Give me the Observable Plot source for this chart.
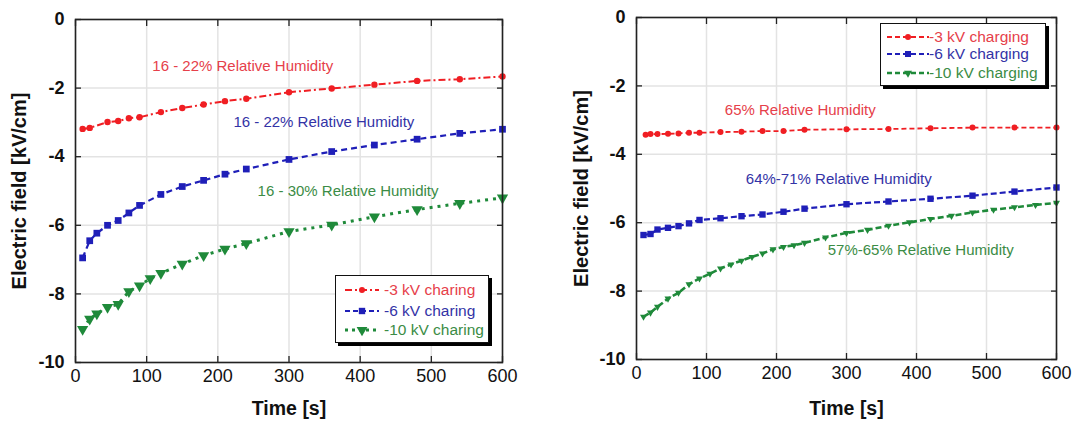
<!DOCTYPE html>
<html><head><meta charset="utf-8">
<script src="https://cdn.jsdelivr.net/npm/d3@7"></script>
<script src="https://cdn.jsdelivr.net/npm/@observablehq/plot@0.6"></script>
<style>
body{margin:0;background:#fff;font-family:"Liberation Sans",Arial,sans-serif;}
#wrap{position:relative;width:1078px;height:427px;overflow:hidden;background:#fff;}
.panel{position:absolute;top:0;}
.legend{position:absolute;box-sizing:border-box;background:#fff;border:1.5px solid #111;box-shadow:3px 3px 0 #000;}
.row{position:absolute;left:0;height:18px;display:block;}
.row svg{position:absolute;top:0;}
.row span{position:absolute;top:0;line-height:18px;font-size:15.5px;white-space:nowrap;}
</style></head><body><div id="wrap"></div>
<script>
// ---------- data ----------
const xTicks = [0,100,200,300,400,500,600];
const yTicks = [-10,-8,-6,-4,-2,0];

// Left panel
const timesL3 = [10,20,45,60,75,90,120,150,180,210,240,300,360,420,480,540,600];
const fieldL3 = [-3.19,-3.16,-2.99,-2.96,-2.88,-2.85,-2.70,-2.58,-2.48,-2.38,-2.31,-2.12,-2.01,-1.90,-1.79,-1.74,-1.66];
const timesL6 = [10,20,30,45,60,75,90,120,150,180,210,240,300,360,420,480,540,600];
const fieldL6 = [-6.95,-6.45,-6.23,-6.00,-5.86,-5.64,-5.42,-5.10,-4.87,-4.69,-4.51,-4.36,-4.08,-3.85,-3.66,-3.49,-3.32,-3.20];
const timesL10 = [10,20,30,45,60,75,90,105,120,150,180,210,240,300,360,420,480,540,600];
const fieldL10 = [-9.03,-8.73,-8.58,-8.39,-8.30,-7.93,-7.76,-7.55,-7.40,-7.13,-6.88,-6.69,-6.53,-6.18,-5.99,-5.75,-5.54,-5.36,-5.20];

// Right panel
const timesR3 = [13,20,30,45,60,75,90,120,150,180,210,240,300,360,420,480,540,600];
const fieldR3 = [-3.43,-3.41,-3.41,-3.40,-3.39,-3.37,-3.37,-3.35,-3.34,-3.32,-3.32,-3.28,-3.27,-3.26,-3.24,-3.22,-3.22,-3.22];
const timesR6 = [10,20,30,45,60,75,90,120,150,180,210,240,300,360,420,480,540,600];
const fieldR6 = [-6.36,-6.33,-6.20,-6.15,-6.10,-6.02,-5.92,-5.87,-5.81,-5.76,-5.68,-5.59,-5.46,-5.38,-5.30,-5.21,-5.09,-4.97];
const timesR10 = [10,20,30,45,60,75,90,105,120,135,150,165,180,195,210,225,240,270,300,330,360,390,420,450,480,510,540,570,600];
const fieldR10 = [-8.75,-8.63,-8.46,-8.22,-8.05,-7.80,-7.63,-7.49,-7.34,-7.22,-7.11,-7.00,-6.90,-6.78,-6.71,-6.66,-6.59,-6.43,-6.30,-6.21,-6.09,-5.99,-5.89,-5.80,-5.70,-5.62,-5.55,-5.48,-5.42];

const legendL = ["-3 kV charing","-6 kV charing","-10 kV charing"];
const legendR = ["-3 kV charging","-6 kV charging","-10 kV charging"];

const notesL = ["16 - 22% Relative Humidity","16 - 22% Relative Humidity","16 - 30% Relative Humidity"];
const notesLt = [235,349,383];
const notesLv = [-1.37,-2.99,-5.01];
const notesR = ["65% Relative Humidity","64%-71% Relative Humidity","57%-65% Relative Humidity"];
const notesRt = [234,289,406];
const notesRv = [-2.70,-4.72,-6.80];

const yLabel = "Electric field [kV/cm]";
const xLabel = "Time [s]";

// ---------- styles ----------
const RED = "#f01e23", BLUE = "#1f1fb8", GREEN = "#1f8a3a";
const RED_T = "#e6404a", BLUE_T = "#3333a6", GREEN_T = "#3b8c45";
const FONT = "'Liberation Sans', Arial, sans-serif";
const fmt = d => String(d);

const zip = (ts, vs) => ts.map((t, i) => ({t, v: vs[i]}));

function panel({width, ml, mr, mt, mb, series, notes, ylabDx, xlabDy}) {
  const marks = [
    Plot.gridX(xTicks, {stroke: "#e3e3e3", strokeOpacity: 1, strokeWidth: 1.5}),
    Plot.gridY(yTicks, {stroke: "#e3e3e3", strokeOpacity: 1, strokeWidth: 1.5}),
    Plot.axisX(xTicks, {anchor: "bottom", tickSize: 0, tickPadding: 7, fontSize: 18, fill: "#111", label: null, tickFormat: fmt}),
    Plot.axisY(yTicks, {anchor: "left", tickSize: 0, tickPadding: 11, fontSize: 18, fontWeight: "bold", fill: "#111", label: null, tickFormat: fmt}),
    Plot.axisX(xTicks, {anchor: "bottom", tickSize: -6, fill: "none", stroke: "#222", strokeWidth: 1.3, label: null}),
    Plot.axisX(xTicks, {anchor: "top", tickSize: -6, fill: "none", stroke: "#222", strokeWidth: 1.3, label: null}),
    Plot.axisY(yTicks, {anchor: "left", tickSize: -6, fill: "none", stroke: "#222", strokeWidth: 1.3, label: null}),
    Plot.axisY(yTicks, {anchor: "right", tickSize: -6, fill: "none", stroke: "#222", strokeWidth: 1.3, label: null}),
  ];
  for (const s of series) {
    marks.push(Plot.line(s.data, {x: "t", y: "v", stroke: s.color, strokeWidth: s.sw, strokeDasharray: s.dash, strokeLinecap: "butt"}));
    marks.push(Plot.dot(s.data, {x: "t", y: "v", fill: s.color, stroke: "none", symbol: s.symbol, r: s.r, rotate: s.rotate || 0}));
  }
  marks.push(Plot.text(notes, {x: "t", y: "v", text: "label", fill: "color", fontSize: 15, textAnchor: "middle"}));
  marks.push(Plot.frame({stroke: "#222", strokeWidth: 1.6}));
  marks.push(Plot.text([yLabel], {frameAnchor: "left", dx: ylabDx, rotate: -90, textAnchor: "middle", fontSize: 20, fontWeight: "bold", fill: "#111"}));
  marks.push(Plot.text([xLabel], {frameAnchor: "bottom", dy: xlabDy, textAnchor: "middle", fontSize: 19.5, fontWeight: "bold", fill: "#111"}));
  return Plot.plot({
    width, height: 427, marginLeft: ml, marginRight: mr, marginTop: mt, marginBottom: mb,
    x: {domain: [0, 600]}, y: {domain: [-10, 0]},
    style: {fontFamily: FONT, background: "transparent", overflow: "visible"},
    marks
  });
}

const noteColors = [RED_T, BLUE_T, GREEN_T];
const left = panel({
  width: 540, ml: 75, mr: 38, mt: 19, mb: 65, ylabDx: -56, xlabDy: 52,
  series: [
    {data: zip(timesL3, fieldL3), color: RED, sw: 2, dash: "7,3,2,3", symbol: "circle", r: 3.2},
    {data: zip(timesL6, fieldL6), color: BLUE, sw: 2.2, dash: "6,4", symbol: "square", r: 3.8},
    {data: zip(timesL10, fieldL10), color: GREEN, sw: 3, dash: "3,5", symbol: "triangle", r: 4.2, rotate: 180}
  ],
  notes: notesL.map((label, i) => ({label, t: notesLt[i], v: notesLv[i], color: noteColors[i]}))
});
const right = panel({
  width: 538, ml: 96, mr: 22, mt: 17, mb: 68, ylabDx: -55, xlabDy: 55,
  series: [
    {data: zip(timesR3, fieldR3), color: RED, sw: 1.8, dash: "5,3", symbol: "circle", r: 3},
    {data: zip(timesR6, fieldR6), color: BLUE, sw: 2.2, dash: "6,3", symbol: "square", r: 3.6},
    {data: zip(timesR10, fieldR10), color: GREEN, sw: 2.6, dash: "6,3", symbol: "triangle", r: 2.6, rotate: 180}
  ],
  notes: notesR.map((label, i) => ({label, t: notesRt[i], v: notesRv[i], color: noteColors[i]}))
});

const wrap = document.getElementById("wrap");
left.classList.add("panel"); left.style.left = "0px";
right.classList.add("panel"); right.style.left = "540px";
wrap.appendChild(left); wrap.appendChild(right);

// ---------- legends ----------
function legend({x, y, w, h, labels, rowYs, sampleX, sampleW, textX, styles}) {
  const box = document.createElement("div");
  box.className = "legend";
  Object.assign(box.style, {left: x + "px", top: y + "px", width: w + "px", height: h + "px"});
  labels.forEach((lab, i) => {
    const st = styles[i];
    const row = document.createElement("div");
    row.className = "row";
    row.style.top = (rowYs[i] - 9) + "px";
    row.style.width = "100%";
    const svg = d3.create("svg").attr("width", sampleW).attr("height", 18)
      .style("left", sampleX + "px");
    svg.append("line").attr("x1", 0).attr("x2", sampleW).attr("y1", 9).attr("y2", 9)
      .attr("stroke", st.color).attr("stroke-width", st.sw).attr("stroke-dasharray", st.dash);
    const sym = {circle: d3.symbolCircle, square: d3.symbolSquare, triangle: d3.symbolTriangle}[st.symbol];
    svg.append("path").attr("d", d3.symbol(sym, Math.PI * st.r * st.r)())
      .attr("transform", `translate(${sampleW / 2},9) rotate(${st.rotate || 0})`).attr("fill", st.color);
    row.appendChild(svg.node());
    const sp = document.createElement("span");
    sp.textContent = lab; sp.style.left = textX + "px"; sp.style.color = st.text;
    row.appendChild(sp);
    box.appendChild(row);
  });
  wrap.appendChild(box);
}
legend({x: 335, y: 275, w: 154, h: 68, labels: legendL, rowYs: [14, 35, 54], sampleX: 9, sampleW: 34, textX: 48,
  styles: [
    {color: RED, sw: 2, dash: "7,3,2,3", symbol: "circle", r: 3, text: RED_T},
    {color: BLUE, sw: 2.2, dash: "5,3", symbol: "square", r: 3.6, text: BLUE_T},
    {color: GREEN, sw: 3, dash: "3,4", symbol: "triangle", r: 4, rotate: 180, text: GREEN_T}
  ]});
legend({x: 880, y: 23, w: 166, h: 63, labels: legendR, rowYs: [13, 30, 49], sampleX: 6, sampleW: 42, textX: 48,
  styles: [
    {color: RED, sw: 1.8, dash: "5,3", symbol: "circle", r: 3, text: RED_T},
    {color: BLUE, sw: 2.2, dash: "5,3", symbol: "square", r: 3.4, text: BLUE_T},
    {color: GREEN, sw: 2.6, dash: "5,3", symbol: "triangle", r: 3, rotate: 180, text: GREEN_T}
  ]});
</script></body></html>
